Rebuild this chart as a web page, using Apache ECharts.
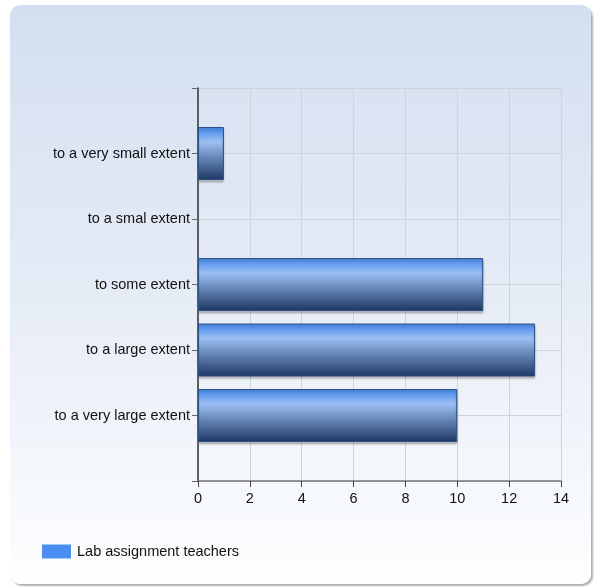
<!DOCTYPE html>
<html>
<head>
<meta charset="utf-8">
<script src="https://cdn.jsdelivr.net/npm/echarts@6/dist/echarts.min.js"></script>
<style>
html,body{margin:0;padding:0;background:#ffffff;}
#panel{position:absolute;left:10px;top:5px;width:581px;height:579px;border-radius:10px;
background:linear-gradient(to bottom,#d3dff0 0%,#e6ecf6 50%,#fdfeff 100%);
box-shadow:2px 2px 2px rgba(120,120,120,0.6);}
#chart{position:absolute;left:0;top:0;width:594px;height:587px;}
</style>
</head>
<body>
<div id="panel"></div>
<div id="chart"></div>
<script>
const categories = ['', 'to a very small extent', 'to a smal extent', 'to some extent', 'to a large extent', 'to a very large extent', ''];
const values = [null, 1, 0, 11, 13, 10, null];
const xTicks = [0, 2, 4, 6, 8, 10, 12, 14];
const seriesName = 'Lab assignment teachers';

const FONT = 'Liberation Sans, Arial, sans-serif';
const chart = echarts.init(document.getElementById('chart'), null, {renderer: 'canvas'});
const barGradient = new echarts.graphic.LinearGradient(0, 0, 0, 1, [
  {offset: 0, color: '#3f86ea'},
  {offset: 0.28, color: '#9cbff4'},
  {offset: 0.55, color: '#6c8cbd'},
  {offset: 1, color: '#1d3762'}
]);
const barData = values.map(v => (v === 0 ? {value: v, itemStyle: {borderWidth: 0, shadowColor: 'transparent'}} : v));
chart.setOption({
  animation: false,
  grid: {left: 198, right: 33, top: 88, bottom: 106, containLabel: false},
  xAxis: {
    type: 'value', min: xTicks[0], max: xTicks[xTicks.length - 1], interval: 2,
    axisLine: {show: true, lineStyle: {color: '#777', width: 1.5}},
    axisTick: {show: true, length: 6, lineStyle: {color: '#444'}},
    axisLabel: {color: '#111', fontSize: 14.5, fontFamily: FONT, margin: 10},
    splitLine: {show: true, lineStyle: {color: '#cdd3dc', width: 1}}
  },
  yAxis: {
    type: 'category', data: categories, inverse: true, boundaryGap: false,
    axisLine: {show: true, onZero: false, lineStyle: {color: '#333', width: 1.5}},
    axisTick: {show: true, length: 6, lineStyle: {color: '#666'}},
    axisLabel: {color: '#111', fontSize: 14.5, fontFamily: FONT, margin: 8},
    splitLine: {show: true, lineStyle: {color: '#cdd3dc', width: 1}}
  },
  legend: {
    left: 42, top: 544, padding: 0, itemWidth: 29, itemHeight: 14, itemGap: 10,
    icon: 'rect',
    textStyle: {color: '#111', fontSize: 14.5, fontFamily: FONT, padding: [0, 0, 0, 1]},
    data: [{name: seriesName, itemStyle: {color: '#4a8ff0', borderWidth: 0, shadowColor: 'transparent'}}]
  },
  series: [{
    name: seriesName, type: 'bar', data: barData, barWidth: 53,
    itemStyle: {color: barGradient, borderColor: '#2c4f86', borderWidth: 1,
      shadowColor: 'rgba(80,80,80,0.35)', shadowOffsetY: 2, shadowBlur: 2}
  }]
});
</script>
</body>
</html>
